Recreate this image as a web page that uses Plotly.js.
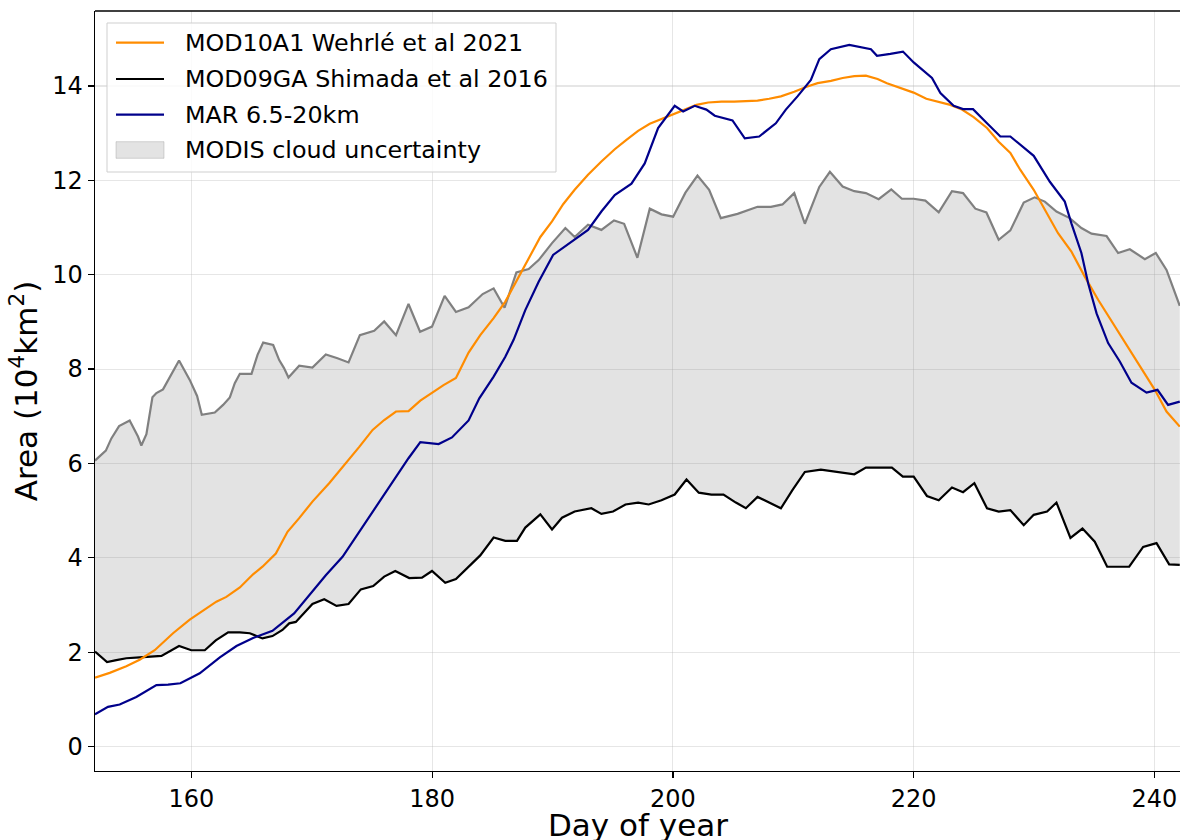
<!DOCTYPE html>
<html>
<head>
<meta charset="utf-8">
<script src="https://cdn.plot.ly/plotly-3.0.1.min.js"></script>
<style>html,body{margin:0;padding:0;background:#fff;}#chart{width:1180px;height:840px;}</style>
</head>
<body>
<div id="chart"></div>
<script>
// ---- Data (day of year, area in 10^4 km^2) ----
const upperDays = [152,152.9,153.36,154.0,154.88,155.57,155.85,156.27,156.77,157.1,157.65,158.07,158.98,159.87,160.48,160.87,161.95,162.64,163.2,163.61,164.03,165.0,165.5,165.97,166.8,167.3,167.7,168.07,168.96,170.06,171.17,172.14,173.06,174.0,175.19,176.02,177.0,178.04,179.0,179.99,181.04,181.98,183.03,184.2,185.11,186.02,187.0,188.02,188.85,189.96,191.07,191.84,192.95,194.06,195.11,195.95,197.05,198.08,199.05,200.02,201.04,202.04,203.01,203.98,205.37,207.03,208.14,209.1,210.08,210.96,212.16,213.04,214.1,215.07,216.03,217.09,218.14,219.02,220.0,220.97,222.08,223.18,224.1,225.12,226.04,227.06,228.03,229.14,230.05,230.89,231.86,232.96,233.93,234.77,236.02,236.98,237.95,239.2,240.11,241.0,242.1];
const upperArea = [6.06,6.27,6.53,6.79,6.91,6.57,6.38,6.62,7.40,7.49,7.57,7.77,8.18,7.77,7.43,7.03,7.08,7.24,7.40,7.70,7.90,7.90,8.30,8.56,8.51,8.19,8.02,7.82,8.07,8.03,8.31,8.23,8.14,8.72,8.81,9.01,8.72,9.38,8.79,8.90,9.55,9.21,9.31,9.59,9.71,9.30,10.05,10.12,10.31,10.67,10.99,10.80,11.06,10.95,11.15,11.08,10.36,11.40,11.28,11.23,11.74,12.10,11.80,11.20,11.29,11.44,11.44,11.49,11.73,11.08,11.86,12.18,11.87,11.77,11.73,11.60,11.81,11.61,11.61,11.57,11.32,11.77,11.73,11.40,11.32,10.74,10.94,11.53,11.64,11.55,11.34,11.20,10.99,10.87,10.82,10.46,10.54,10.33,10.46,10.10,9.34];

const mod09Days = [152,153.0,153.77,154.6,155.71,156.55,157.52,158.98,160.0,161.12,162.03,163.06,164.03,164.86,165.91,166.74,167.57,168.13,168.68,170.06,171.04,172.06,173.06,174.08,175.11,176.02,176.94,178.1,179.16,179.99,181.09,181.98,183.03,184.0,185.11,186.08,187.05,187.74,188.99,189.96,190.79,191.84,193.23,194.06,195.03,196.06,197.11,197.99,199.05,200.15,201.13,202.15,203.2,204.2,205.23,206.06,207.03,208.0,208.97,209.94,210.96,212.29,213.54,215.07,216.03,218.19,219.1,220.0,221.1,222.08,223.18,224.1,225.04,226.09,227.06,228.03,229.14,229.97,231.08,231.86,233.02,234.02,235.04,236.07,237.9,239.06,240.17,241.22,242.1];
const mod09Area = [2.01,1.79,1.83,1.87,1.89,1.91,1.92,2.13,2.04,2.04,2.25,2.42,2.42,2.40,2.29,2.34,2.47,2.61,2.64,3.02,3.12,2.98,3.02,3.33,3.40,3.60,3.72,3.57,3.58,3.72,3.47,3.55,3.82,4.05,4.43,4.36,4.36,4.64,4.92,4.60,4.85,4.98,5.05,4.93,4.98,5.13,5.17,5.13,5.22,5.34,5.66,5.38,5.34,5.34,5.17,5.05,5.29,5.17,5.05,5.44,5.82,5.87,5.82,5.77,5.91,5.91,5.72,5.72,5.31,5.22,5.49,5.39,5.58,5.05,4.98,5.01,4.69,4.91,4.98,5.17,4.42,4.62,4.34,3.81,3.81,4.23,4.31,3.86,3.85];

const mod10Days = [152,153.22,154.6,155.71,156.96,158.48,159.87,161.26,162.08,162.91,164.03,165.13,165.91,167.02,167.99,168.96,170.06,171.45,172.84,173.95,175.06,176.02,177.0,178.04,179.02,179.99,180.95,181.98,183.03,184.0,185.11,186.08,187.19,188.02,188.99,189.96,190.9,191.84,192.95,194.06,195.17,196.14,197.11,198.08,199.05,200.02,200.99,201.96,202.93,204.04,205.09,207.03,208.0,208.97,210.08,211.05,212.02,213.13,214.1,215.07,216.03,217.0,217.78,218.89,219.99,221.05,222.07,223.04,224.01,224.98,226.09,227.06,228.03,228.86,229.97,230.89,231.99,233.1,234.21,235.32,236.56,237.81,239.06,240.03,241.0,242.1];
const mod10Area = [1.46,1.56,1.70,1.84,2.04,2.40,2.69,2.93,3.07,3.17,3.37,3.65,3.81,4.09,4.55,4.84,5.19,5.58,6.00,6.35,6.71,6.92,7.10,7.11,7.33,7.49,7.66,7.81,8.35,8.72,9.08,9.43,9.96,10.35,10.80,11.13,11.50,11.80,12.12,12.40,12.66,12.86,13.05,13.20,13.30,13.41,13.51,13.60,13.65,13.67,13.67,13.69,13.73,13.78,13.88,13.98,14.06,14.11,14.17,14.21,14.22,14.15,14.06,13.96,13.86,13.73,13.67,13.60,13.50,13.34,13.11,12.82,12.58,12.22,11.80,11.37,10.88,10.49,9.96,9.47,8.97,8.48,7.98,7.56,7.10,6.78];

const marDays = [152,153.08,154.05,155.43,157.1,158.07,159.09,160.7,162.37,163.75,165.13,166.74,168.54,169.79,171.17,172.56,173.95,175.33,176.72,178.04,179.02,180.54,181.65,183.03,183.92,185.11,186.08,186.77,187.74,188.85,190.05,191.07,191.84,192.95,194.06,195.17,196.56,197.66,198.77,200.15,200.85,201.81,202.78,203.48,204.95,205.97,207.17,208.55,209.38,210.35,211.46,212.16,213.12,214.65,216.45,216.95,218.06,219.11,220.0,221.52,222.22,223.32,224.1,224.93,226.09,227.2,228.03,229.0,229.97,231.31,232.55,233.1,233.93,234.49,235.19,236.15,237.12,238.09,239.34,240.25,241.13,242.1];
const marArea = [0.68,0.84,0.89,1.05,1.30,1.31,1.34,1.55,1.89,2.13,2.30,2.45,2.82,3.21,3.63,4.02,4.55,5.08,5.59,6.11,6.45,6.41,6.55,6.91,7.38,7.84,8.26,8.62,9.25,9.85,10.42,10.60,10.74,10.95,11.34,11.69,11.93,12.36,13.11,13.58,13.46,13.58,13.50,13.37,13.27,12.89,12.93,13.21,13.50,13.78,14.13,14.57,14.78,14.87,14.78,14.64,14.68,14.73,14.50,14.17,13.85,13.58,13.51,13.51,13.21,12.93,12.93,12.73,12.52,11.97,11.55,11.09,10.46,9.82,9.18,8.55,8.16,7.71,7.50,7.56,7.24,7.31];

const xTicks = [160, 180, 200, 220, 240];
const yTicks = [0, 2, 4, 6, 8, 10, 12, 14];

const legendLabels = ['MOD10A1 Wehrlé et al 2021', 'MOD09GA Shimada et al 2016', 'MAR 6.5-20km', 'MODIS cloud uncertainty'];
const xTitle = 'Day of year';
const yTitle = 'Area (10<sup>4</sup>km<sup>2</sup>)';

const FONT = 'DejaVu Sans, Liberation Sans, sans-serif';
const C_MOD10 = '#ff8c00', C_MOD09 = '#000000', C_MAR = '#00008b', C_UP = '#808080';
const C_FILL = 'rgba(128,128,128,0.22)';

const traces = [
  {x: mod09Days, y: mod09Area, type: 'scatter', mode: 'lines',
   line: {width: 0, color: 'rgba(0,0,0,0)'}, name: 'band lower', showlegend: false, hoverinfo: 'skip'},
  {x: upperDays, y: upperArea, type: 'scatter', mode: 'lines', fill: 'tonexty',
   fillcolor: C_FILL, line: {width: 0, color: 'rgba(0,0,0,0)'},
   name: legendLabels[3], showlegend: false},
  {x: upperDays, y: upperArea, type: 'scatter', mode: 'lines',
   line: {color: C_UP, width: 2.2}, name: 'upper', showlegend: false},
  {x: mod09Days, y: mod09Area, type: 'scatter', mode: 'lines',
   line: {color: C_MOD09, width: 2.2}, name: legendLabels[1], showlegend: false},
  {x: mod10Days, y: mod10Area, type: 'scatter', mode: 'lines',
   line: {color: C_MOD10, width: 2.2}, name: legendLabels[0], showlegend: false},
  {x: marDays, y: marArea, type: 'scatter', mode: 'lines',
   line: {color: C_MAR, width: 2.2}, name: legendLabels[2], showlegend: false}
];

// ---- Legend box and x title placed in paper coordinates (layout only) ----
const M = {l: 95, r: 0, t: 11, b: 69};
const PW = 1180 - M.l - M.r, PH = 840 - M.t - M.b;
const px = v => (v - M.l) / PW;
const py = v => (840 - M.b - v) / PH;

const legendRows = [42.7, 79, 114.6, 149.8];
const legendColors = [C_MOD10, C_MOD09, C_MAR];

const shapes = [
  {type: 'line', xref: 'paper', yref: 'paper', x0: 0, x1: 1, y0: 1, y1: 1,
   line: {color: '#000', width: 1.3}},
  {type: 'rect', xref: 'paper', yref: 'paper', x0: px(107), x1: px(556), y0: py(23), y1: py(172),
   fillcolor: 'rgba(255,255,255,0.82)', line: {color: '#cfcfcf', width: 1}}
];
legendColors.forEach((c, i) => shapes.push({
  type: 'line', xref: 'paper', yref: 'paper', x0: px(116), x1: px(164),
  y0: py(legendRows[i]), y1: py(legendRows[i]), line: {color: c, width: 2.2}
}));
shapes.push({type: 'rect', xref: 'paper', yref: 'paper', x0: px(116), x1: px(164),
  y0: py(141.7), y1: py(158.3), fillcolor: C_FILL, line: {color: 'rgba(128,128,128,0.3)', width: 1}});

const annotations = legendLabels.map((t, i) => ({
  text: t, xref: 'paper', yref: 'paper', x: px(183), y: py(legendRows[i]),
  xanchor: 'left', yanchor: 'middle', showarrow: false,
  font: {family: FONT, size: 23.8, color: '#000'}
}));
annotations.push({
  text: xTitle, xref: 'paper', yref: 'paper', x: 0.5, y: py(805),
  xanchor: 'center', yanchor: 'top', showarrow: false,
  font: {family: FONT, size: 31, color: '#000'}
});

const layout = {
  width: 1180, height: 840,
  margin: M,
  paper_bgcolor: '#ffffff', plot_bgcolor: '#ffffff',
  font: {family: FONT, color: '#000000', size: 24},
  showlegend: false,
  xaxis: {
    range: [152, 242.12], tickvals: xTicks, ticktext: xTicks.map(String),
    ticks: 'outside', ticklen: 6, tickwidth: 1.2, tickcolor: '#000',
    showline: true, linecolor: '#000', linewidth: 1.3, mirror: false,
    showgrid: true, gridcolor: 'rgba(176,176,176,0.32)', gridwidth: 1.1,
    zeroline: false, tickfont: {size: 24, family: FONT}
  },
  yaxis: {
    range: [-0.52, 15.59], tickvals: yTicks, ticktext: yTicks.map(String),
    ticks: 'outside', ticklen: 6, tickwidth: 1.2, tickcolor: '#000',
    showline: true, linecolor: '#000', linewidth: 1.3, mirror: false,
    showgrid: true, gridcolor: 'rgba(176,176,176,0.32)', gridwidth: 1.1,
    zeroline: false, tickfont: {size: 24, family: FONT},
    title: {text: yTitle, font: {size: 31, family: FONT}, standoff: 5}
  },
  shapes: shapes,
  annotations: annotations
};

Plotly.newPlot('chart', traces, layout, {staticPlot: true, displayModeBar: false});
</script>
</body>
</html>
